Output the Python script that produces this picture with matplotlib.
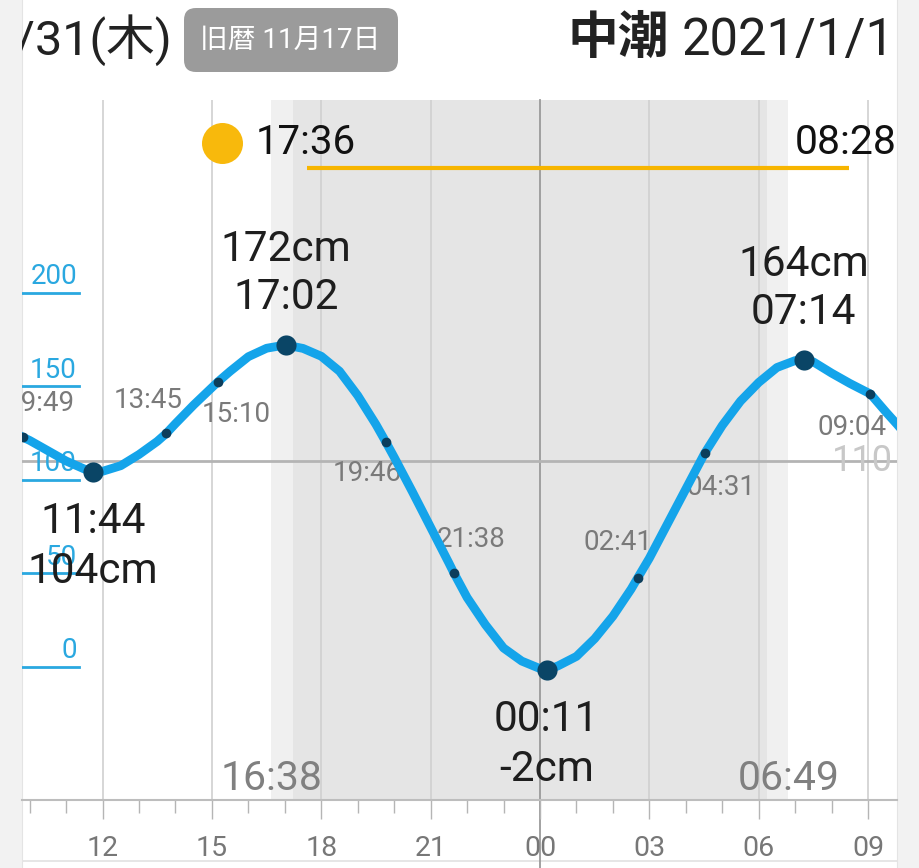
import matplotlib
matplotlib.use("Agg")
import matplotlib.pyplot as plt
import matplotlib.transforms as mtransforms
from matplotlib.patches import FancyBboxPatch
from matplotlib.ticker import MultipleLocator

plt.rcParams['font.family'] = ['Roboto', 'Noto Sans CJK JP', 'DejaVu Sans']

# ---------------- data ----------------
# tide curve (hours since 0:00 on 12/31, cm)
curve_hours = [9.5, 9.817, 10, 10.5, 11, 11.5, 11.733, 12, 12.5, 13, 13.5, 13.75, 14, 14.5,
               15, 15.167, 15.5, 16, 16.5, 17, 17.033, 17.5, 18, 18.5, 19, 19.5, 19.767,
               20, 20.5, 21, 21.5, 21.633, 22, 22.5, 23, 23.5, 24, 24.183, 24.5, 25, 25.5,
               26, 26.5, 26.683, 27, 27.5, 28, 28.517, 29, 29.5, 30, 30.5, 31, 31.233,
               31.5, 32, 32.5, 33, 33.067, 33.5, 33.8, 34.0]
curve_cm = [126, 122.7, 121, 115.5, 110, 105.7, 104, 104.5, 107.5, 113.5, 120.5, 124.8, 130, 140,
            149.3, 152.4, 158, 165.8, 170.3, 172, 172, 170.2, 166, 158, 145, 129.5, 120.3,
            112, 93.5, 74.5, 55.5, 50.3, 37, 22.5, 10, 3, -1, -2, 0.5, 5.5, 15,
            27, 41.5, 47.6, 58, 76.5, 95, 114.1, 129, 142, 152, 160, 163.7, 164,
            163, 157, 151.5, 146.5, 145.8, 136, 129.5, 125]

extreme_times = ["11:44", "17:02", "00:11", "07:14"]
extreme_days = [0, 0, 1, 1]
extreme_cm = [104, 172, -2, 164]
extreme_kind = ["low", "high", "low", "high"]

mid_times = ["09:49", "13:45", "15:10", "19:46", "21:38", "02:41", "04:31", "09:04"]
mid_days = [0, 0, 0, 0, 0, 1, 1, 1]
mid_cm = [122.7, 124.8, 152.4, 120.3, 50.3, 47.6, 114.1, 145.8]

sun_times = ["16:38", "17:14", "06:13", "06:49"]   # sunset, dark, dawn, sunrise
sun_days = [0, 0, 1, 1]
moon_times = ["17:36", "08:28"]                    # moonrise, moonset
moon_days = [0, 1]
ref_level = 110

y_ticks = [0, 50, 100, 150, 200]
x_tick_hours = [12, 15, 18, 21, 24, 27, 30, 33]
x_tick_labels = ["12", "15", "18", "21", "00", "03", "06", "09"]

date_left = "2020/12/31(木)"
lunar_text = "旧暦 11月17日"
tide_name = "中潮"
date_right = "2021/1/1(金)"


def to_h(s, day):
    hh, mm = s.split(":")
    return int(hh) + int(mm) / 60 + 24 * day


# layout (pixels -> points)
PT = 0.72
mid_offsets = [(17, -34), (-18, -33), (18, 33), (-18, 32), (17, -33), (-20, -35), (16, 34), (-18, 33)]

W, H = 920, 868
fig = plt.figure(figsize=(W / 100, H / 100), dpi=100, facecolor='#f2f2f2')

# card (pixel coordinates) for header texts
card = fig.add_axes([22 / W, 0, 875 / W, 1])
card.set_xlim(22, 897)
card.set_ylim(H, 0)
card.set_facecolor('white')
card.set_xticks([])
card.set_yticks([])
for k, s in card.spines.items():
    s.set_visible(k in ('left', 'right'))
    s.set_color('#e4e4e4')
card.plot([22, 897], [861, 861], color='#e2e2e2', lw=1.2)

card.text(172, 40, date_left, ha='right', va='center', fontsize=35, color='#222222', clip_on=True)
pill = FancyBboxPatch((184, 8), 214, 64, boxstyle="round,pad=0,rounding_size=12",
                      facecolor='#9b9b9b', edgecolor='none')
card.add_patch(pill)
card.text(290, 40, lunar_text, ha='center', va='center', fontsize=20, color='white')
card.text(567, 38, tide_name, ha='left', va='center', fontsize=36.5, fontweight='bold',
          color='#222222', family=['Noto Sans CJK JP'])
card.text(682, 40, date_right, ha='left', va='center', fontsize=36.5, color='#222222', clip_on=True)

# main chart
ax = fig.add_axes([22 / W, (H - 800) / H, 875 / W, 700 / H])
ax.patch.set_alpha(0)
ax.set_xlim(9.789, 33.794)
ax.set_ylim(-71.28, 303.05)
for k, s in ax.spines.items():
    s.set_visible(k == 'bottom')
ax.spines['bottom'].set_color('#bdbdbd')
ax.spines['bottom'].set_linewidth(1.5)

sunset, dark, dawn, sunrise = [to_h(t, d) for t, d in zip(sun_times, sun_days)]
ax.axvspan(sunset, sunrise, color='#f0f0f0', lw=0, zorder=0)
ax.axvspan(dark, dawn, color='#e5e5e5', lw=0, zorder=0.5)

for h in x_tick_hours:
    if h == 24:
        ax.axvline(h, ymin=-0.097, ymax=1, color='#9a9a9a', lw=1.3, clip_on=False, zorder=1)
    else:
        ax.axvline(h, color='#d0d0d0', lw=1.2, zorder=1)

ax.set_xticks(x_tick_hours, x_tick_labels)
ax.xaxis.set_minor_locator(MultipleLocator(1))
ax.tick_params(axis='x', which='major', length=19 * PT, width=1, color='#b5b5b5',
               pad=11.5, labelsize=20.5, labelcolor='#777777')
ax.tick_params(axis='x', which='minor', length=13 * PT, width=1, color='#b5b5b5')
ax.set_yticks([])

ax.axhline(ref_level, color='#b4b4b4', lw=2, zorder=2)
ax.annotate(str(ref_level), xy=(0.9954, ref_level), xycoords=('axes fraction', 'data'),
            ha='right', va='center', fontsize=26, color='#c8c8c8', zorder=2)

ytr = mtransforms.blended_transform_factory(ax.transAxes, ax.transData)
for v in y_ticks:
    ax.plot([0, 57 / 875], [v, v], transform=ytr, color='#2aa8e0', lw=2, zorder=2)
    ax.annotate(str(v), xy=(55 / 875, v), xycoords=ytr, xytext=(0, 16 * PT),
                textcoords='offset points', ha='right', va='center', fontsize=20,
                color='#2aa8e0', zorder=2)

# moon
xtr = mtransforms.blended_transform_factory(ax.transData, ax.transAxes)
mrise, mset = [to_h(t, d) for t, d in zip(moon_times, moon_days)]
ax.plot([mrise, mset], [(800 - 168) / 700] * 2, transform=xtr, color='#f7b500', lw=3,
        solid_capstyle='butt', zorder=3)
moon_tr = mtransforms.offset_copy(xtr, fig=fig, x=-84.8 * PT, y=0, units='points')
ax.plot([mrise], [(800 - 143) / 700], 'o', transform=moon_tr, ms=41 * PT, color='#f8b90c',
        mec='none', zorder=3, clip_on=False)
ax.annotate(moon_times[0], xy=(mrise, 0.94), xycoords=xtr, xytext=(-51 * PT, 0),
            textcoords='offset points', ha='left', va='center', fontsize=29, color='#111111')
ax.annotate(moon_times[1], xy=(mset, 0.94), xycoords=xtr, xytext=(48.5 * PT, 0),
            textcoords='offset points', ha='right', va='center', fontsize=29.5, color='#111111')

# sunset / sunrise labels
for t, h in ((sun_times[0], sunset), (sun_times[3], sunrise)):
    ax.annotate(t, xy=(h, (800 - 778) / 700), xycoords=xtr, ha='center', va='center',
                fontsize=29.5, color='#808080', zorder=3)

# tide curve
ax.plot(curve_hours, curve_cm, color='#14a4ea', lw=6.3, solid_capstyle='round',
        solid_joinstyle='round', zorder=4)

mid_h = [to_h(t, d) for t, d in zip(mid_times, mid_days)]
ax.plot(mid_h, mid_cm, 'o', ms=7, color='#0c3e5c', mec='none', zorder=5)
for t, h, v, (dx, dy) in zip(mid_times, mid_h, mid_cm, mid_offsets):
    ax.annotate(t, xy=(h, v), xytext=(dx * PT, -dy * PT), textcoords='offset points',
                ha='center', va='center', fontsize=20, color='#7a7a7a', zorder=3,
                clip_on=True)

ext_h = [to_h(t, d) for t, d in zip(extreme_times, extreme_days)]
ax.plot(ext_h, extreme_cm, 'o', ms=14.5, color='#0a4566', mec='none', zorder=6)
for t, h, v, kind in zip(extreme_times, ext_h, extreme_cm, extreme_kind):
    cm = f"{v}cm"
    if kind == "high":
        lines = [(cm, -96), (t, -48)]
    else:
        lines = [(t, 49), (cm, 99)]
    for txt, dy in lines:
        ax.annotate(txt, xy=(h, v), xytext=(0, -dy * PT), textcoords='offset points',
                    ha='center', va='center', fontsize=30.5, color='#1e1e1e', zorder=7)

fig.savefig("out.png", dpi=100, facecolor=fig.get_facecolor())
